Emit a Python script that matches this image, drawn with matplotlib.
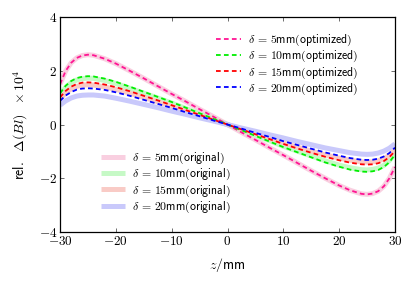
import matplotlib
matplotlib.use("Agg")
import matplotlib.pyplot as plt

plt.rcParams['mathtext.fontset'] = 'cm'
plt.rcParams['font.family'] = ['DejaVu Sans']

z = [-30, -29, -28, -27, -26, -25, -24, -22, -20, -17.5, -15, -12.5, -10, -7.5, -5, -2.5, 0,
     2.5, 5, 7.5, 10, 12.5, 15, 17.5, 20, 22, 24, 25, 26, 27, 28, 29, 30]

opt_5 = [1.50, 1.99, 2.30, 2.48, 2.57, 2.60, 2.58, 2.45, 2.27, 2.00, 1.72, 1.43, 1.14, 0.86, 0.57, 0.29, 0,
         -0.29, -0.57, -0.86, -1.14, -1.43, -1.72, -2.00, -2.27, -2.45, -2.58, -2.60, -2.57, -2.48, -2.30, -2.00, -1.58]
opt_10 = [1.16, 1.44, 1.62, 1.73, 1.78, 1.80, 1.79, 1.71, 1.59, 1.41, 1.22, 1.03, 0.84, 0.63, 0.42, 0.21, 0,
          -0.21, -0.42, -0.63, -0.84, -1.03, -1.22, -1.41, -1.57, -1.68, -1.75, -1.76, -1.74, -1.69, -1.58, -1.40, -1.12]
opt_15 = [1.01, 1.25, 1.41, 1.51, 1.56, 1.57, 1.56, 1.49, 1.39, 1.24, 1.07, 0.90, 0.72, 0.54, 0.36, 0.18, 0,
          -0.18, -0.36, -0.54, -0.72, -0.89, -1.05, -1.20, -1.33, -1.42, -1.48, -1.49, -1.48, -1.44, -1.36, -1.21, -0.99]
opt_20 = [0.88, 1.08, 1.21, 1.30, 1.34, 1.35, 1.34, 1.29, 1.20, 1.07, 0.92, 0.77, 0.62, 0.46, 0.31, 0.15, 0,
          -0.15, -0.31, -0.46, -0.62, -0.76, -0.90, -1.04, -1.16, -1.25, -1.31, -1.32, -1.31, -1.27, -1.19, -1.06, -0.86]

orig_5 = [1.50, 1.99, 2.30, 2.48, 2.57, 2.60, 2.58, 2.45, 2.27, 2.00, 1.72, 1.43, 1.14, 0.86, 0.57, 0.29, 0,
          -0.29, -0.57, -0.86, -1.14, -1.43, -1.72, -2.00, -2.27, -2.45, -2.58, -2.60, -2.57, -2.48, -2.30, -2.00, -1.58]
orig_10 = [1.11, 1.38, 1.56, 1.66, 1.71, 1.73, 1.72, 1.64, 1.53, 1.35, 1.17, 0.99, 0.80, 0.60, 0.40, 0.20, 0,
           -0.20, -0.40, -0.60, -0.81, -0.99, -1.17, -1.35, -1.51, -1.61, -1.68, -1.69, -1.67, -1.62, -1.52, -1.34, -1.08]
orig_15 = [0.95, 1.18, 1.33, 1.42, 1.47, 1.48, 1.47, 1.40, 1.31, 1.17, 1.01, 0.85, 0.68, 0.51, 0.34, 0.17, 0,
           -0.17, -0.34, -0.51, -0.68, -0.84, -0.99, -1.13, -1.25, -1.33, -1.39, -1.40, -1.39, -1.35, -1.28, -1.14, -0.93]
orig_20 = [0.72, 0.88, 0.99, 1.06, 1.09, 1.10, 1.10, 1.06, 0.98, 0.87, 0.75, 0.63, 0.50, 0.38, 0.25, 0.13, 0,
           -0.13, -0.25, -0.38, -0.50, -0.63, -0.75, -0.87, -0.97, -1.05, -1.10, -1.11, -1.10, -1.06, -0.99, -0.88, -0.72]

deltas = ['5', '10', '15', '20']
opt_colors = ['#ff1493', '#00ee00', '#ff0000', '#0000ff']
orig_colors = ['#f9cfe0', '#c6f9c6', '#f9cbc6', '#c9c9fb']
xticks = [-30, -20, -10, 0, 10, 20, 30]
yticks = [-4, -2, 0, 2, 4]

fig = plt.figure(figsize=(4.15, 2.85), dpi=100)
ax = fig.add_axes([0.1446, 0.186, 0.8072, 0.754])

orig_handles = []
for vals, c, d in zip([orig_5, orig_10, orig_15, orig_20], orig_colors, deltas):
    h, = ax.plot(z, vals, color=c, lw=3.6, solid_capstyle='butt',
                 label=r'$\delta\,=\,' + d + r'\mathsf{mm(original)}$')
    orig_handles.append(h)

opt_handles = []
for vals, c, d in zip([opt_5, opt_10, opt_15, opt_20], opt_colors, deltas):
    h, = ax.plot(z, vals, color=c, lw=1.3, dashes=(2.6, 1.8),
                 label=r'$\delta\,=\,' + d + r'\mathsf{mm(optimized)}$')
    opt_handles.append(h)

ax.set_xlim(-30, 30)
ax.set_ylim(-4, 4)
ax.set_xticks(xticks)
ax.set_xticklabels([r'$%d$' % v for v in xticks])
ax.set_yticks(yticks)
ax.set_yticklabels([r'$%d$' % v for v in yticks])
ax.tick_params(direction='in', top=True, right=True, length=3, width=0.6,
               labelsize=9.5, pad=2, color='#555555')
for s in ax.spines.values():
    s.set_linewidth(0.9)

ax.set_xlabel(r'$z/\mathsf{mm}$', fontsize=10, labelpad=6)
ax.set_ylabel(r'$\mathsf{rel.}\ \ \Delta(Bl)\ \ \times 10^4$', fontsize=10, labelpad=6)

leg1 = ax.legend(handles=opt_handles, loc='upper left', bbox_to_anchor=(0.445, 0.96),
                 frameon=False, fontsize=8.5, handlelength=2.1, handletextpad=0.6,
                 labelspacing=0.08, borderaxespad=0.2)
ax.add_artist(leg1)
ax.legend(handles=orig_handles, loc='upper left', bbox_to_anchor=(0.1, 0.41),
          frameon=False, fontsize=8.5, handlelength=2.1, handletextpad=0.6,
          labelspacing=0.08, borderaxespad=0.2)

fig.savefig('out.png', dpi=100)
